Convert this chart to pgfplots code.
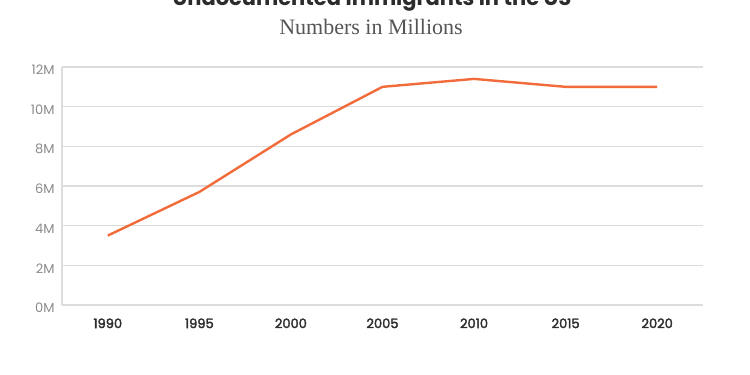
\documentclass[border=0pt]{standalone}
\usepackage{pgfplots}
\pgfplotsset{compat=1.18}
\usepackage{fontspec}
\setmainfont{Poppins}
\newfontfamily\subfont{Liberation Serif}
\newcommand{\semib}[1]{\special{pdf:literal direct 2 Tr 0.35 w}#1\special{pdf:literal direct 0 Tr}}
\definecolor{lineor}{HTML}{F26B3A}
\definecolor{gridc}{HTML}{DCDCDC}
\definecolor{ylab}{HTML}{8A8A8A}
\definecolor{xlab}{HTML}{2E2E2E}
\definecolor{subc}{HTML}{555555}
\definecolor{titc}{HTML}{2B2B2B}
\begin{document}
\begin{tikzpicture}[x=1pt,y=1pt]
\path[use as bounding box, clip] (0,0) rectangle (750,375);
\node[font=\fontsize{21}{24}\selectfont\bfseries, text=titc, anchor=base] at (372,369) {Undocumented Immigrants in the US};
\node[font=\subfont\fontsize{22}{25}\selectfont, text=subc, anchor=base] at (371,340) {Numbers in Millions};
\begin{axis}[
  at={(62pt,70pt)}, anchor=south west,
  scale only axis, width=641pt, height=238pt,
  xmin=1987.5, xmax=2022.5, ymin=0, ymax=12,
  xtick={1990,1995,2000,2005,2010,2015,2020},
  xticklabels={\semib{1990},\semib{1995},\semib{2000},\semib{2005},\semib{2010},\semib{2015},\semib{2020}},
  ytick={0,2,4,6,8,10,12},
  yticklabels={0M,2M,4M,6M,8M,10M,12M},
  axis line style={draw=none},
  major tick length=0pt,
  ymajorgrids, grid style={gridc, line width=1.3pt},
  yticklabel style={font=\fontsize{13}{15}\selectfont, text=ylab, xshift=-4pt, yshift=-3pt},
  xticklabel style={font=\fontsize{13}{15}\selectfont, text=xlab, yshift=-10pt},
  clip=false,
]
\draw[gridc, line width=1.3pt] (rel axis cs:0,0) -- (rel axis cs:0,1);
\addplot[lineor, line width=2.4pt, line join=round] coordinates {
 (1990,3.5) (1995,5.7) (2000,8.6) (2005,11.0) (2010,11.4) (2015,11.0) (2020,11.0)
};
\end{axis}
\end{tikzpicture}
\end{document}
